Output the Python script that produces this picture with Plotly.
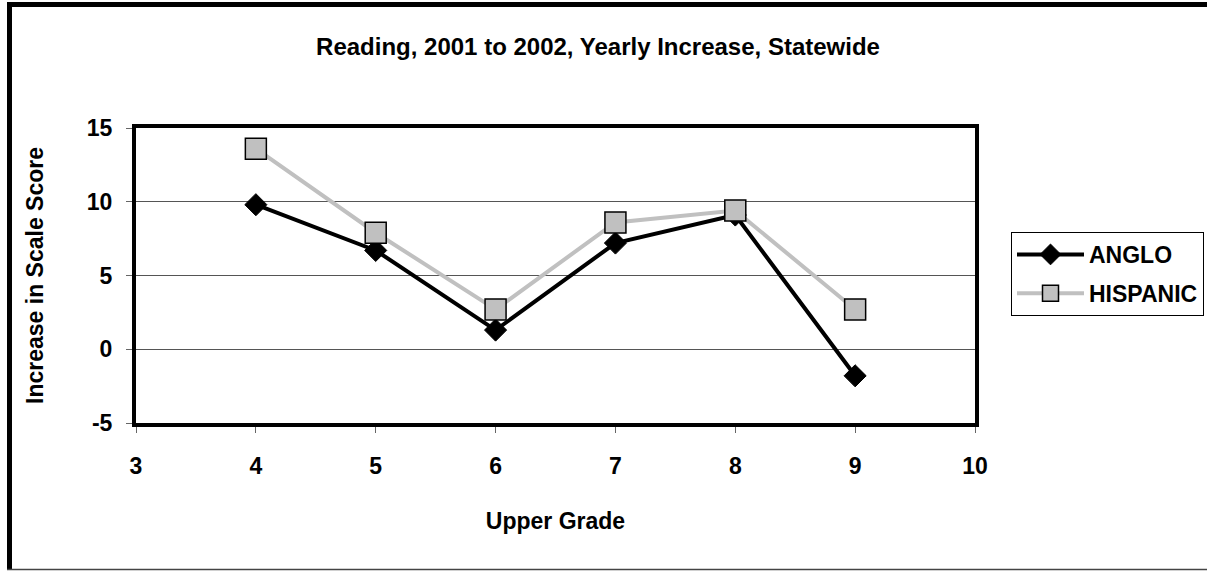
import plotly.graph_objects as go

grades = [4, 5, 6, 7, 8, 9]
anglo = [9.8, 6.7, 1.3, 7.2, 9.1, -1.8]
hispanic = [13.6, 7.9, 2.7, 8.6, 9.4, 2.7]
y_ticks = [-5, 0, 5, 10, 15]
y_tick_labels = ["-5", "0", "5", "10", "15"]
x_ticks = [3, 4, 5, 6, 7, 8, 9, 10]

W, H = 1207, 571
L, R, T, B = 136, 232, 128, 148
pw, ph = W - L - R, H - T - B

FONT = "Liberation Sans, Arial, sans-serif"
FS = 23


def px(x):
    return (x - L) / pw


def py(y):
    return (H - B - y) / ph


fig = go.Figure()
fig.add_trace(go.Scatter(
    x=grades, y=anglo, name="ANGLO", mode="lines+markers",
    legendgroup="anglo",
    line=dict(color="black", width=4),
    marker=dict(symbol="diamond", size=17, color="black",
                line=dict(color="black", width=1)),
))
fig.add_trace(go.Scatter(
    x=grades, y=hispanic, name="HISPANIC", mode="lines+markers",
    legendgroup="hispanic",
    line=dict(color="#c0c0c0", width=4),
    marker=dict(symbol="square", size=21, color="#c0c0c0",
                line=dict(color="black", width=1.5)),
))

# outer chart frame
frame = [
    (px(9.5), py(2), px(9.5), py(570), 5, "black"),
    (px(7), py(4.5), px(1207), py(4.5), 5, "black"),
    (px(7), py(569.5), px(1207), py(569.5), 1.5, "#444"),
]
for x0, y0, x1, y1, w, c in frame:
    fig.add_shape(type="line", xref="paper", yref="paper",
                  x0=x0, y0=y0, x1=x1, y1=y1,
                  line=dict(color=c, width=w), layer="above")

fig.update_layout(
    width=W, height=H,
    margin=dict(l=L, r=R, t=T, b=B, autoexpand=False),
    plot_bgcolor="white", paper_bgcolor="white",
    font=dict(family=FONT, size=FS, color="black", weight="bold"),
    title=dict(text="Reading, 2001 to 2002, Yearly Increase, Statewide",
               x=598 / W, xref="container", xanchor="center",
               y=1 - 47 / H, yref="container", yanchor="middle",
               font=dict(family=FONT, size=24, weight="bold")),
    showlegend=True,
    legend=dict(x=px(1011), y=py(232), xanchor="left", yanchor="top",
                bordercolor="black", borderwidth=1, bgcolor="white",
                font=dict(family=FONT, size=FS, weight="bold"),
                itemwidth=67, tracegroupgap=6),
    xaxis=dict(range=[3, 10], tickvals=x_ticks, showgrid=False,
               zeroline=False, showline=True, linecolor="black",
               linewidth=4, mirror=True, ticks="outside", ticklen=6,
               tickcolor="#666", tickwidth=1, ticklabelstandoff=13,
               tickfont=dict(size=FS),
               title=dict(text="Upper Grade", standoff=36,
                          font=dict(size=FS))),
    yaxis=dict(range=[-5, 15], tickvals=y_ticks, ticktext=y_tick_labels,
               showgrid=True, gridcolor="#555", gridwidth=1, zeroline=False,
               showline=True, linecolor="black", linewidth=4, mirror=True,
               ticks="outside", ticklen=6, tickcolor="#666", tickwidth=1,
               ticklabelstandoff=9, tickfont=dict(size=FS),
               title=dict(text="Increase in Scale Score", standoff=38,
                          font=dict(size=FS))),
)

fig.write_html("out.html")
